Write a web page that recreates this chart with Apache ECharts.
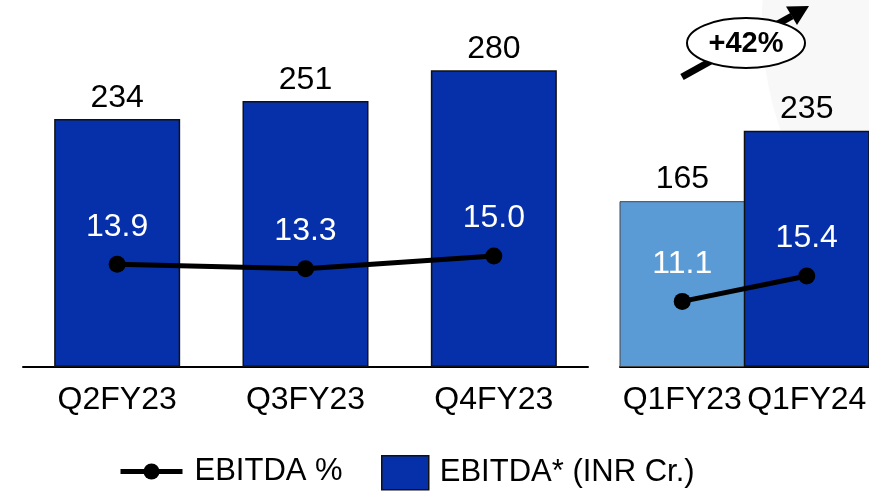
<!DOCTYPE html>
<html>
<head>
<meta charset="utf-8">
<script src="https://cdn.jsdelivr.net/npm/echarts@6/dist/echarts.min.js"></script>
<style>
html,body{margin:0;padding:0;background:#fff;}
#chart{width:869px;height:492px;}
</style>
</head>
<body>
<div id="chart"></div>
<script>
const leftCategories = ['Q2FY23', 'Q3FY23', 'Q4FY23'];
const leftEbitda = [234, 251, 280];
const leftMargin = [13.9, 13.3, 15.0];

const rightCategories = ['Q1FY23', 'Q1FY24'];
const rightEbitda = [165, 235];
const rightMargin = [11.1, 15.4];

const growthLabel = '+42%';
const lineName = 'EBITDA %';
const barName = 'EBITDA* (INR Cr.)';

const FONT = '"Liberation Sans", Arial, sans-serif';
const FS = 32;
const DARK = '#0530A9';
const LIGHT = '#5B9BD5';

const chart = echarts.init(document.getElementById('chart'));

const axisCommon = {
  type: 'category',
  axisTick: { show: false },
  axisLine: { lineStyle: { color: '#000', width: 2 } },
  axisLabel: { color: '#000', fontSize: FS, fontFamily: FONT, margin: 17, interval: 0 }
};
const valAxis = (grid, max) => ({ type: 'value', gridIndex: grid, min: 0, max: max, show: false });

chart.setOption({
  backgroundColor: '#fff',
  animation: false,
  textStyle: { fontFamily: FONT },
  grid: [
    { left: 23, width: 565, top: 49, bottom: 125 },
    { left: 620, width: 252, top: 65.5, bottom: 125 }
  ],
  xAxis: [
    Object.assign({ gridIndex: 0, data: leftCategories }, axisCommon),
    Object.assign({ gridIndex: 1, data: rightCategories }, axisCommon)
  ],
  yAxis: [
    valAxis(0, 300), valAxis(0, 43),
    valAxis(1, 300), valAxis(1, 51)
  ],
  legend: [
    {
      data: [{ name: lineName, itemStyle: { color: '#000' }, lineStyle: { color: '#000', width: 5 } }],
      left: 118, top: 456, padding: 0, itemWidth: 62, itemHeight: 20,
      textStyle: { fontSize: 31, color: '#000', fontFamily: FONT, padding: [0, 0, 0, 7] },
      selectedMode: false
    },
    {
      data: [{ name: barName, itemStyle: { color: DARK, borderColor: '#111', borderWidth: 1.5 } }],
      left: 381, top: 455, padding: 0, itemWidth: 47, itemHeight: 34, icon: 'rect',
      textStyle: { fontSize: 31, color: '#000', fontFamily: FONT, padding: [0, 0, 0, 6] },
      selectedMode: false
    }
  ],
  graphic: [
    { type: 'circle', z: -10, silent: true, shape: { cx: 1100, cy: 20, r: 338 }, style: { fill: '#f8f8f8' } },
    { type: 'line', z: 100, shape: { x1: 682, y1: 77, x2: 792, y2: 16 }, style: { stroke: '#000', lineWidth: 7 } },
    { type: 'polygon', z: 100, shape: { points: [[809, 6], [797, 25], [786, 6.5]] }, style: { fill: '#000' } },
    { type: 'ellipse', z: 101, shape: { cx: 746, cy: 43, rx: 59, ry: 25 }, style: { fill: '#fff', stroke: '#000', lineWidth: 2 } },
    { type: 'text', z: 102, x: 746, y: 44, style: { text: growthLabel, fontSize: 29, fontWeight: 'bold', fontFamily: FONT, fill: '#000', align: 'center', verticalAlign: 'middle' } }
  ],
  series: [
    {
      name: barName, type: 'bar', xAxisIndex: 0, yAxisIndex: 0, barWidth: 126,
      data: leftEbitda,
      itemStyle: { color: DARK, borderColor: '#111', borderWidth: 1.5 },
      label: { show: true, position: 'top', distance: 5, fontSize: FS, color: '#000', fontFamily: FONT }
    },
    {
      name: barName, type: 'bar', xAxisIndex: 1, yAxisIndex: 2, barWidth: 126,
      data: rightEbitda.map((v, i) => i === 0 ? { value: v, itemStyle: { color: LIGHT, borderColor: '#444', borderWidth: 1 } } : v),
      itemStyle: { color: DARK, borderColor: '#111', borderWidth: 1.5 },
      label: { show: true, position: 'top', distance: 6, fontSize: FS, color: '#000', fontFamily: FONT }
    },
    {
      name: lineName, type: 'line', xAxisIndex: 0, yAxisIndex: 1, z: 5,
      data: leftMargin, symbol: 'circle', symbolSize: 17,
      lineStyle: { color: '#000', width: 5 }, itemStyle: { color: '#000' },
      label: { show: true, position: 'top', distance: 13, fontSize: FS, color: '#fff', fontFamily: FONT, formatter: p => p.value.toFixed(1) }
    },
    {
      name: lineName, type: 'line', xAxisIndex: 1, yAxisIndex: 3, z: 5,
      data: rightMargin, symbol: 'circle', symbolSize: 17,
      lineStyle: { color: '#000', width: 5 }, itemStyle: { color: '#000' },
      label: { show: true, position: 'top', distance: 13, fontSize: FS, color: '#fff', fontFamily: FONT, formatter: p => p.value.toFixed(1) }
    }
  ]
});
</script>
</body>
</html>
